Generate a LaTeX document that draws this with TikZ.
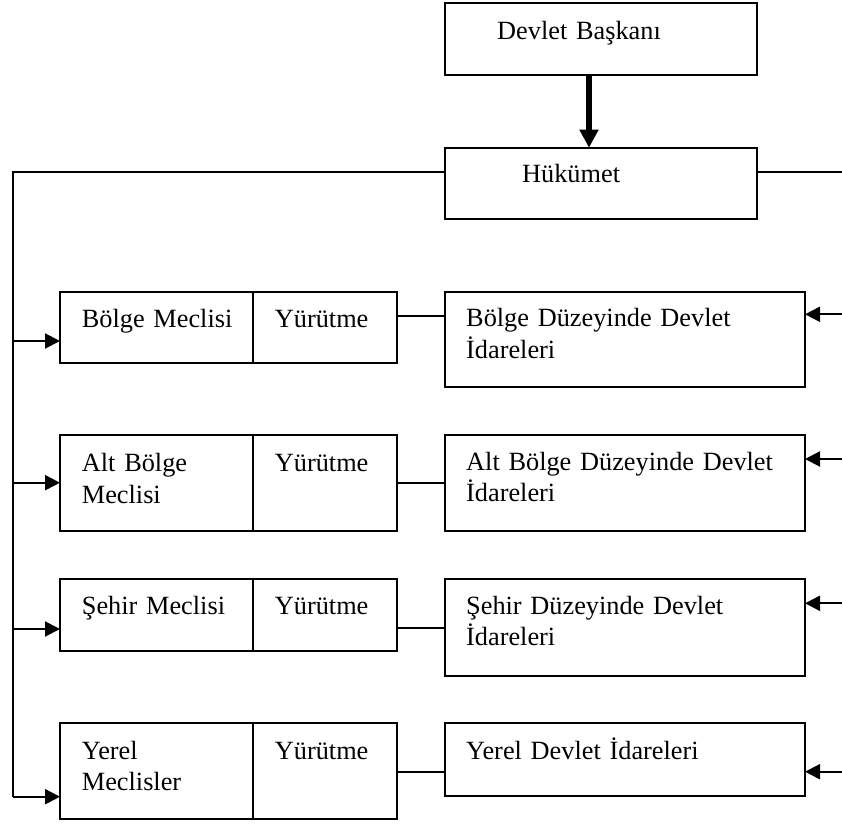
\documentclass[tikz,border=0pt]{standalone}
\usepackage{fontspec}
\setmainfont{Liberation Serif}
\usetikzlibrary{arrows.meta,calc,positioning}

\tikzset{
  kutu/.style={draw,line width=2pt,outer sep=0pt,inner sep=0pt,anchor=north west,minimum height=72pt},
  meclis/.style={kutu,minimum width=192.7pt},
  yurutme/.style={kutu,minimum width=144pt},
  idare/.style={kutu,minimum width=360.5pt},
  yazi/.style={anchor=base west,inner sep=0pt,text width=330pt,align=left,font=\fontsize{26.3}{31.5}\selectfont},
  hat/.style={line width=2pt},
  ok/.style={hat,-{Triangle[length=15pt,width=15pt]}}
}

\begin{document}
\begin{tikzpicture}[x=1pt,y=-1pt]
	\useasboundingbox (0,0) rectangle (842,827);
	% ust kutular
	\node[kutu,minimum width=312pt] (baskan) at (445,3) {};
	\node[kutu,minimum width=312pt,minimum height=71.6pt] (hukumet) at (445,147.7) {};
	\node[yazi] (tbaskan) at ($(baskan.north west)+(52,36)$) {Devlet Başkanı};
	\node[yazi] (thukumet) at ($(hukumet.north west)+(77,35)$) {Hükümet};
	\coordinate (ustok) at (589,0);
	\draw[line width=6.5pt,-{Triangle[length=18pt,width=18pt]}] (baskan.south -| ustok) -- (hukumet.north -| ustok);

	% satirlar
	\node[meclis,minimum height=71pt] (bolge) at (60,292.3) {};
	\node[yurutme,minimum height=71pt,right=0pt of bolge] (yur1) {};
	\node[idare,minimum height=95pt] (bolgeid) at (444.5,292.3) {};

	\node[meclis,minimum height=95.7pt] (altbolge) at (60,435) {};
	\node[yurutme,minimum height=95.7pt,right=0pt of altbolge] (yur2) {};
	\node[idare,minimum height=95.7pt] (altbolgeid) at (444.5,435) {};

	\node[meclis,minimum height=71.7pt] (sehir) at (60,579.3) {};
	\node[yurutme,minimum height=71.7pt,right=0pt of sehir] (yur3) {};
	\node[idare,minimum height=96.4pt] (sehirid) at (444.5,579.3) {};

	\node[meclis,minimum height=96pt] (yerel) at (60,723.3) {};
	\node[yurutme,minimum height=96pt,right=0pt of yerel] (yur4) {};
	\node[idare,minimum height=72.7pt] (yerelid) at (444.5,723.3) {};

	% yazilar
	\node[yazi] (tbolge) at ($(bolge.north west)+(21.7,35.4)$) {Bölge Meclisi};
	\node[yazi] (tyur1) at ($(yur1.north west)+(22,35.4)$) {Yürütme};
	\node[yazi] (tbolgeid) at ($(bolgeid.north west)+(21.5,34.4)$) {Bölge Düzeyinde Devlet\\İdareleri};
	\node[yazi] (taltbolge) at ($(altbolge.north west)+(21.7,36.7)$) {Alt Bölge\\Meclisi};
	\node[yazi] (tyur2) at ($(yur2.north west)+(22,36.7)$) {Yürütme};
	\node[yazi] (taltbolgeid) at ($(altbolgeid.north west)+(21.5,35)$) {Alt Bölge Düzeyinde Devlet\\İdareleri};
	\node[yazi] (tsehir) at ($(sehir.north west)+(21.7,34.7)$) {Şehir Meclisi};
	\node[yazi] (tyur3) at ($(yur3.north west)+(22,34.7)$) {Yürütme};
	\node[yazi] (tsehirid) at ($(sehirid.north west)+(21.5,34.7)$) {Şehir Düzeyinde Devlet\\İdareleri};
	\node[yazi] (tyerel) at ($(yerel.north west)+(21.7,35.7)$) {Yerel\\Meclisler};
	\node[yazi] (tyur4) at ($(yur4.north west)+(22,35.7)$) {Yürütme};
	\node[yazi] (tyerelid) at ($(yerelid.north west)+(21.5,35.7)$) {Yerel Devlet İdareleri};

	% sol ana hat
	\coordinate (sol) at (12.7,171.7);
	\coordinate (sag) at (842,171.7);
	\coordinate (s1) at (12.7,341);
	\coordinate (s2) at (12.7,482.7);
	\coordinate (s3) at (12.7,629);
	\coordinate (s4) at (12.7,796.7);
	\draw[hat] (hukumet.west |- sol) -- (sol) -- (s4);
	\draw[hat] (hukumet.east |- sag) -- (sag);
	\draw[ok] (s1) -- (bolge.west |- s1);
	\draw[ok] (s2) -- (altbolge.west |- s2);
	\draw[ok] (s3) -- (sehir.west |- s3);
	\draw[ok] (s4) -- (yerel.west |- s4);

	% sag oklar
	\coordinate (r1) at (842,314.3);
	\coordinate (r2) at (842,459);
	\coordinate (r3) at (842,603.3);
	\coordinate (r4) at (842,771.7);
	\draw[ok] (r1) -- (bolgeid.east |- r1);
	\draw[ok] (r2) -- (altbolgeid.east |- r2);
	\draw[ok] (r3) -- (sehirid.east |- r3);
	\draw[ok] (r4) -- (yerelid.east |- r4);

	% yurutme -> idare
	\coordinate (b1) at (0,315.5);
	\coordinate (b2) at (0,482.7);
	\coordinate (b3) at (0,627.7);
	\coordinate (b4) at (0,771.7);
	\draw[hat] (yur1.east |- b1) -- (bolgeid.west |- b1);
	\draw[hat] (yur2.east |- b2) -- (altbolgeid.west |- b2);
	\draw[hat] (yur3.east |- b3) -- (sehirid.west |- b3);
	\draw[hat] (yur4.east |- b4) -- (yerelid.west |- b4);
\end{tikzpicture}
\end{document}
